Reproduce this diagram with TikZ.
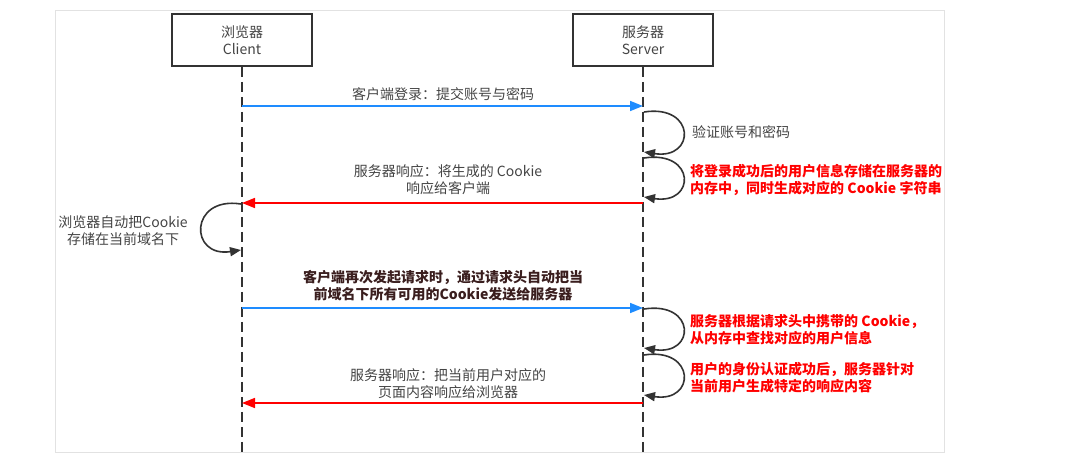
\documentclass[tikz,border=0pt]{standalone}
\usepackage{fontspec}
\setmainfont{Noto Sans CJK SC}
\usetikzlibrary{arrows.meta}
\definecolor{txt}{HTML}{444444}
\definecolor{lineclr}{HTML}{333333}
\definecolor{blu}{HTML}{1E8CFF}
\definecolor{rd}{HTML}{FF0000}
\definecolor{framegray}{HTML}{E2E2E2}
\definecolor{dk}{HTML}{3A1E1E}
\begin{document}
\begin{tikzpicture}[x=1pt,y=-1pt,
  every node/.style={font=\fontsize{14}{17}\selectfont, inner sep=0pt},
  actor/.style={draw=lineclr, line width=1.7pt, minimum width=140pt, minimum height=52pt, align=center, text=txt},
  life/.style={draw=lineclr, line width=1.7pt, dash pattern=on 10pt off 5pt},
  bluearrow/.style={draw=blu, line width=1.6pt, -{Triangle[length=13pt,width=10pt]}},
  redarrow/.style={draw=rd, line width=1.6pt, -{Triangle[length=13pt,width=10pt]}},
  loopline/.style={draw=lineclr, line width=1.6pt, -{Triangle[length=11pt,width=9pt]}},
  graylbl/.style={text=txt, align=center},
  redlbl/.style={text=rd, align=left, anchor=west, font=\fontsize{14}{17}\selectfont\bfseries},
  darklbl/.style={text=dk, align=center, font=\fontsize{14}{17}\selectfont\bfseries}
]
\useasboundingbox (0,0) rectangle (1074,462);
\draw[framegray, line width=0.8pt] (55,10) rectangle (944,452);

\node[actor] (client) at (242,40) {浏览器\\Client};
\node[actor] (server) at (643,40) {服务器\\Server};
\coordinate (clientEnd) at (242,452);
\coordinate (serverEnd) at (643,452);
\draw[life] (client.south) -- (clientEnd);
\draw[life] (server.south) -- (serverEnd);

% message 1
\coordinate (c1) at (242,106);
\coordinate (s1) at (643,106);
\draw[bluearrow] (c1) -- (s1);
\node[graylbl] (m1) at (443,94) {客户端登录：提交账号与密码};

% server loop 1
\coordinate (sl1a) at (644,112);
\coordinate (sl1b) at (644,152);
\draw[loopline] (sl1a) .. controls +(52,-8) and +(52,8) .. (sl1b);
\node[text=txt, anchor=west] (v1) at (692,132) {验证账号和密码};

% server loop 2
\coordinate (sl2a) at (644,158);
\coordinate (sl2b) at (644,197);
\draw[loopline] (sl2a) .. controls +(52,-8) and +(52,8) .. (sl2b);
\node[redlbl] (r1) at (690,180) {将登录成功后的用户信息存储在服务器的\\内存中，同时生成对应的 Cookie 字符串};

% response 1
\coordinate (s2) at (643,203);
\coordinate (c2) at (242,203);
\draw[redarrow] (s2) -- (c2);
\node[graylbl] (m2) at (448,180) {服务器响应：将生成的 Cookie\\响应给客户端};

% client loop
\coordinate (cl1a) at (241,204);
\coordinate (cl1b) at (241,250);
\draw[loopline] (cl1a) .. controls +(-52,-8) and +(-52,8) .. (cl1b);
\node[graylbl] (b1) at (123,231) {浏览器自动把Cookie\\存储在当前域名下};

% message 2
\coordinate (c3) at (242,308);
\coordinate (s3) at (643,308);
\draw[bluearrow] (c3) -- (s3);
\node[darklbl] (m3) at (443,286) {客户端再次发起请求时，通过请求头自动把当\\前域名下所有可用的Cookie发送给服务器};

% server loop 3
\coordinate (sl3a) at (644,309);
\coordinate (sl3b) at (644,348);
\draw[loopline] (sl3a) .. controls +(52,-8) and +(52,8) .. (sl3b);
\node[redlbl] (r2) at (690,330) {服务器根据请求头中携带的 Cookie，\\从内存中查找对应的用户信息};

% server loop 4
\coordinate (sl4a) at (644,355);
\coordinate (sl4b) at (644,395);
\draw[loopline] (sl4a) .. controls +(52,-8) and +(52,8) .. (sl4b);
\node[redlbl] (r3) at (690,378) {用户的身份认证成功后，服务器针对\\当前用户生成特定的响应内容};

% response 2
\coordinate (s4) at (643,403);
\coordinate (c4) at (242,403);
\draw[redarrow] (s4) -- (c4);
\node[graylbl] (m4) at (448,384) {服务器响应：把当前用户对应的\\页面内容响应给浏览器};
\end{tikzpicture}
\end{document}
